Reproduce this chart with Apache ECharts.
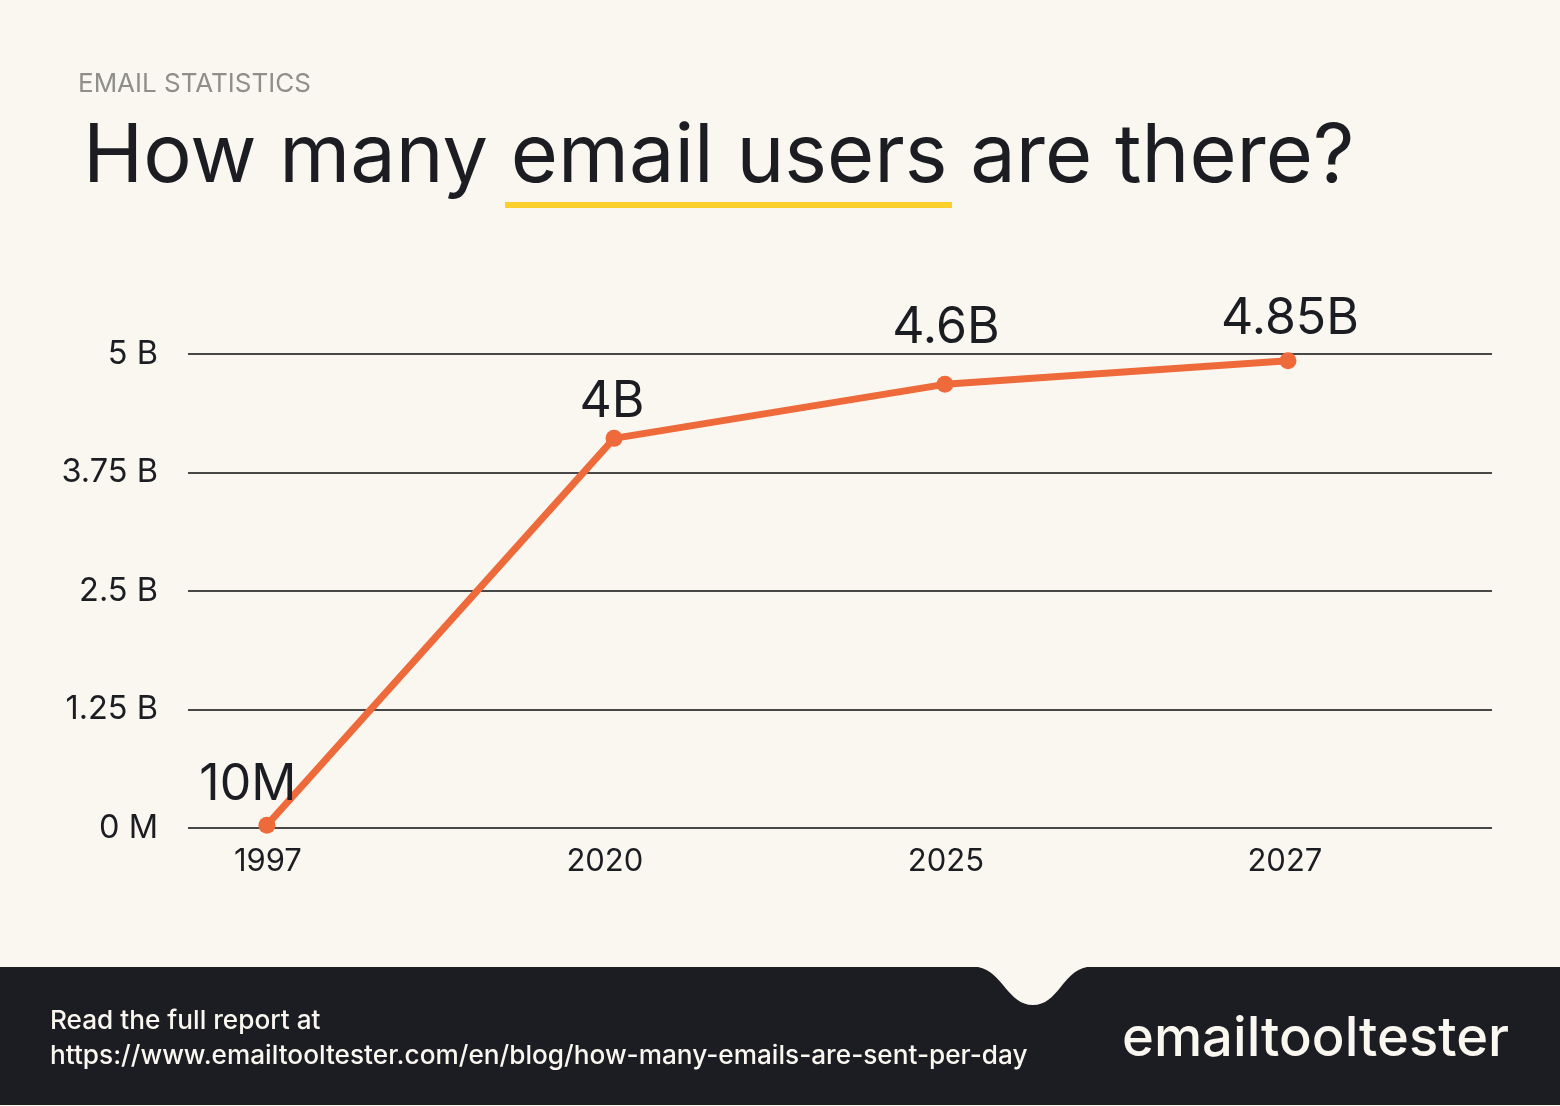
<!DOCTYPE html>
<html>
<head>
<meta charset="utf-8">
<title>How many email users are there?</title>
<script src="https://cdn.jsdelivr.net/npm/echarts@6/dist/echarts.min.js"></script>
<style>
  html, body { margin: 0; padding: 0; background: #faf7f0; }
  #chart { width: 1560px; height: 1106px; }
</style>
</head>
<body>
<div id="chart"></div>
<script>
// data
var years = ['1997', '2020', '2025', '2027'];
var users = [0.03, 4.11, 4.68, 4.93];            // billions, as plotted
var pointLabels = ['10M', '4B', '4.6B', '4.85B'];
var yTickLabels = ['0 M', '1.25 B', '2.5 B', '3.75 B', '5 B'];
// the original spaces its points and its year labels slightly unevenly
var pointSlots = [0, 1.021, 1.994, 3.003];
var labelSlots = [0.003, 0.994, 1.997, 2.994];

var ink = '#1c1d22';
var paper = '#faf7f0';
var orange = '#ee6a3b';
var font = 'Inter, Roboto, sans-serif';

// footer band with its notch
echarts.graphic.registerShape('footerBand', echarts.graphic.extendShape({
    buildPath: function (ctx) {
        ctx.moveTo(0, 967);
        ctx.lineTo(978, 967);
        ctx.bezierCurveTo(1003, 972, 1008, 1005, 1033, 1005);
        ctx.bezierCurveTo(1058, 1005, 1062, 972, 1087, 967);
        ctx.lineTo(1560, 967);
        ctx.lineTo(1560, 1105);
        ctx.lineTo(0, 1105);
        ctx.closePath();
    }
}));

var seriesData = users.map(function (v, i) {
    return { value: [pointSlots[i], v], label: { formatter: pointLabels[i] } };
});
// the value labels do not sit at one distance from their points
seriesData[0].label.offset = [-19, 5];
seriesData[1].label.offset = [-2, 9];
seriesData[2].label.offset = [1, -11];
seriesData[3].label.offset = [2, 4];

var myChart = echarts.init(document.getElementById('chart'), null, { renderer: 'canvas' });

myChart.setOption({
    backgroundColor: paper,
    animation: false,
    title: [
        { text: 'EMAIL STATISTICS', left: 78, top: 71, padding: 0, textStyle: { fontFamily: font, fontSize: 26, fontWeight: 400, color: '#8f8f8a' } },
        { text: 'How many email users are there?', left: 83, top: 117, padding: 0, textStyle: { fontFamily: font, fontSize: 81, fontWeight: 400, color: ink } }
    ],
    grid: { left: 188, right: 68, top: 354, bottom: 278 },
    xAxis: {
        type: 'value',
        min: -0.232,
        max: 3.603,
        splitLine: { show: false },
        axisLine: { show: false },
        axisTick: { show: false },
        axisLabel: {
            customValues: labelSlots,
            margin: 18,
            fontFamily: font,
            fontSize: 31,
            color: ink,
            formatter: function (value) {
                return years[labelSlots.indexOf(value)];
            }
        }
    },
    yAxis: {
        type: 'value',
        min: 0,
        max: 5,
        interval: 1.25,
        axisLine: { show: false },
        axisTick: { show: false },
        splitLine: { lineStyle: { color: '#0c0c10', width: 1.5 } },
        axisLabel: {
            margin: 30,
            fontFamily: font,
            fontSize: 32.5,
            color: ink,
            formatter: function (value) {
                return yTickLabels[Math.round(value / 1.25)];
            }
        }
    },
    series: [{
        type: 'line',
        data: seriesData,
        symbol: 'circle',
        symbolSize: 17,
        lineStyle: { color: orange, width: 7 },
        itemStyle: { color: orange },
        label: {
            show: true,
            position: 'top',
            distance: 12,
            fontFamily: font,
            fontSize: 50,
            color: ink
        }
    }],
    graphic: [
        // yellow underline below "email users"
        { type: 'rect', shape: { x: 505, y: 202, width: 447, height: 6 }, style: { fill: '#fbd02e' } },
        { type: 'footerBand', style: { fill: ink } },
        { type: 'text', x: 50, y: 1008, style: { text: 'Read the full report at', fontFamily: font, fontSize: 26.2, fontWeight: 500, fill: paper } },
        { type: 'text', x: 50, y: 1043, style: { text: 'https://www.emailtooltester.com/en/blog/how-many-emails-are-sent-per-day', fontFamily: font, fontSize: 26.2, fontWeight: 500, fill: paper } },
        { type: 'text', x: 1122, y: 1013, style: { text: 'emailtooltester', fontFamily: font, fontSize: 54.3, fontWeight: 500, fill: paper } }
    ]
});
</script>
</body>
</html>
